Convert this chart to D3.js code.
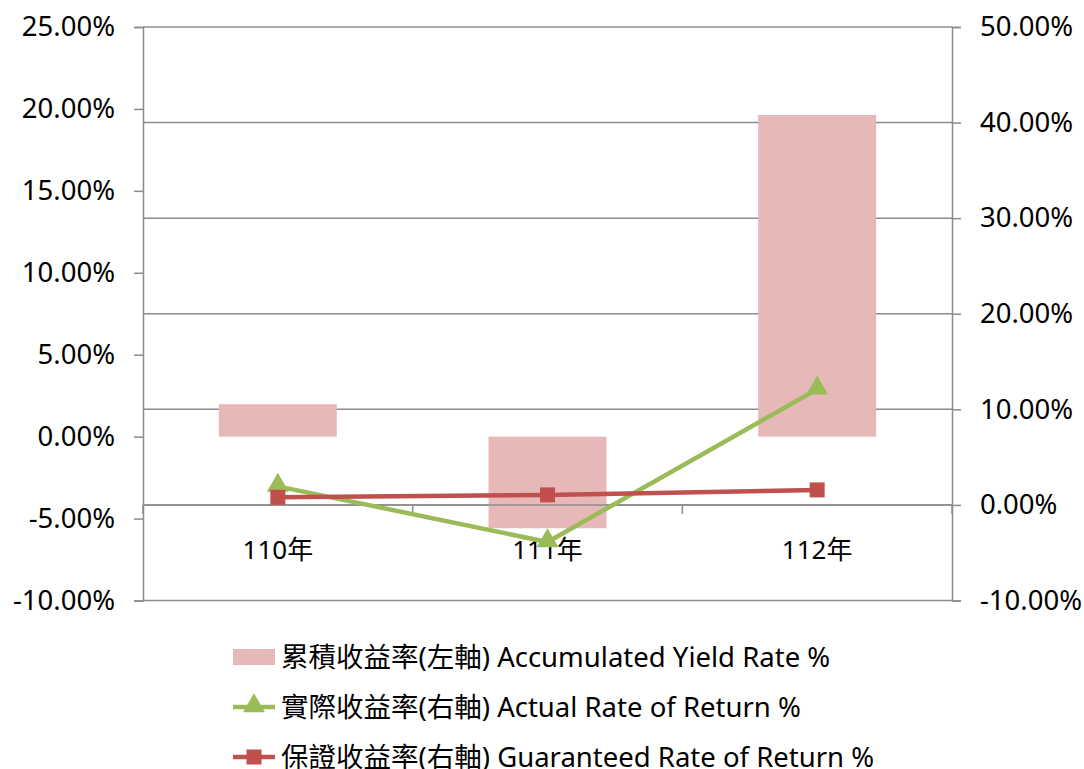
<!DOCTYPE html>
<html><head><meta charset="utf-8">
<script src="https://cdn.jsdelivr.net/npm/d3@7"></script>
<style>body{margin:0;background:#fff;} text{font-family:"Noto Sans","Noto Sans CJK TC",sans-serif;}</style>
</head><body>
<svg id="chart" width="1084" height="769"></svg>
<script>
const categories = ["110年", "111年", "112年"];
const accumulated = [1.98, -5.59, 19.63];   // left axis, %
const actual = [1.94, -3.88, 12.1];          // right axis, %
const guaranteed = [0.8, 1.05, 1.57];        // right axis, %
const leftTicks = [-10, -5, 0, 5, 10, 15, 20, 25];
const rightTicks = [-10, 0, 10, 20, 30, 40, 50];
const legendLabels = ["累積收益率(左軸) Accumulated Yield Rate %", "實際收益率(右軸) Actual Rate of Return %", "保證收益率(右軸) Guaranteed Rate of Return %"];

const C = {bar:"#E6B9B8", green:"#9BBB59", red:"#C0504D", axis:"#8C8C8C"};
const svg = d3.select("#chart");
const L = 143, R = 952, T = 27, B = 600.5;
const FS = 27.5, FSC = 26;

const x = d3.scaleBand().domain(categories).range([L, R]).paddingInner(0).paddingOuter(0);
const yL = d3.scaleLinear().domain([-10, 25]).range([B, T]);
const yR = d3.scaleLinear().domain([-10, 50]).range([B, T]);

// gridlines (right axis)
svg.append("g").selectAll("line").data(rightTicks).join("line")
  .attr("x1", L).attr("x2", R).attr("y1", d => yR(d)).attr("y2", d => yR(d))
  .attr("stroke", C.axis).attr("stroke-width", 1.5);

// left axis
const gL = svg.append("g").attr("transform", `translate(${L},0)`)
  .call(d3.axisLeft(yL).tickValues(leftTicks).tickSize(9).tickPadding(19).tickFormat(d => d.toFixed(2) + "%"));
gL.select(".domain").attr("stroke", C.axis).attr("stroke-width", 1.5);
gL.selectAll(".tick line").attr("stroke", C.axis).attr("stroke-width", 1.5);
gL.selectAll(".tick text").attr("font-size", FS).attr("fill", "#000").attr("font-family", '"Noto Sans",sans-serif');

// right axis
const gR = svg.append("g").attr("transform", `translate(${R},0)`)
  .call(d3.axisRight(yR).tickValues(rightTicks).tickSize(9).tickPadding(19).tickFormat(d => d.toFixed(2) + "%"));
gR.select(".domain").attr("stroke", C.axis).attr("stroke-width", 1.5);
gR.selectAll(".tick line").attr("stroke", C.axis).attr("stroke-width", 1.5);
gR.selectAll(".tick text").attr("font-size", FS).attr("fill", "#000").attr("font-family", '"Noto Sans",sans-serif');

// bars
const bw = x.bandwidth() * 0.4375;
svg.append("g").selectAll("rect").data(accumulated).join("rect")
  .attr("x", (d, i) => x(categories[i]) + x.bandwidth() / 2 - bw / 2)
  .attr("width", bw)
  .attr("y", d => yL(Math.max(0, d)))
  .attr("height", d => Math.abs(yL(d) - yL(0)))
  .attr("fill", C.bar);

// category axis at right-axis zero
const gX = svg.append("g").attr("transform", `translate(0,${yR(0)})`);
gX.append("line").attr("x1", L).attr("x2", R).attr("stroke", C.axis).attr("stroke-width", 1.5);
gX.selectAll("line.tk").data(d3.range(categories.length + 1)).join("line").attr("class", "tk")
  .attr("x1", i => L + i * x.bandwidth()).attr("x2", i => L + i * x.bandwidth())
  .attr("y1", 0).attr("y2", 9).attr("stroke", C.axis).attr("stroke-width", 1.5);
gX.selectAll("text").data(categories).join("text")
  .attr("x", d => x(d) + x.bandwidth() / 2).attr("y", 54)
  .attr("text-anchor", "middle").attr("font-size", FSC).attr("fill", "#000").text(d => d);

const cx = i => x(categories[i]) + x.bandwidth() / 2;
const tri = d3.symbol().type(d3.symbolTriangle).size(210);
const sq = d3.symbol().type(d3.symbolSquare).size(225);

// actual line
svg.append("path").datum(actual)
  .attr("d", d3.line().x((d, i) => cx(i)).y(d => yR(d)))
  .attr("fill", "none").attr("stroke", C.green).attr("stroke-width", 4.5);
svg.append("g").selectAll("path").data(actual).join("path")
  .attr("transform", (d, i) => `translate(${cx(i)},${yR(d) - 1})`).attr("d", tri).attr("fill", C.green);

// guaranteed line
svg.append("path").datum(guaranteed)
  .attr("d", d3.line().x((d, i) => cx(i)).y(d => yR(d)))
  .attr("fill", "none").attr("stroke", C.red).attr("stroke-width", 4.5);
svg.append("g").selectAll("path").data(guaranteed).join("path")
  .attr("transform", (d, i) => `translate(${cx(i)},${yR(d)})`).attr("d", sq).attr("fill", C.red);

// legend
const lg = svg.append("g");
const rowY = [657, 707, 757];
lg.append("rect").attr("x", 233).attr("y", rowY[0] - 8).attr("width", 42).attr("height", 16).attr("fill", C.bar);
lg.append("line").attr("x1", 233).attr("x2", 275).attr("y1", rowY[1]).attr("y2", rowY[1]).attr("stroke", C.green).attr("stroke-width", 4.5);
lg.append("path").attr("transform", `translate(254,${rowY[1] - 1})`).attr("d", tri).attr("fill", C.green);
lg.append("line").attr("x1", 233).attr("x2", 275).attr("y1", rowY[2]).attr("y2", rowY[2]).attr("stroke", C.red).attr("stroke-width", 4.5);
lg.append("path").attr("transform", `translate(254,${rowY[2]})`).attr("d", sq).attr("fill", C.red);
lg.selectAll("text").data(legendLabels).join("text")
  .attr("x", 281).attr("y", (d, i) => rowY[i]).attr("dy", "0.35em")
  .attr("font-size", FS).attr("fill", "#000").text(d => d);
</script>
</body></html>
